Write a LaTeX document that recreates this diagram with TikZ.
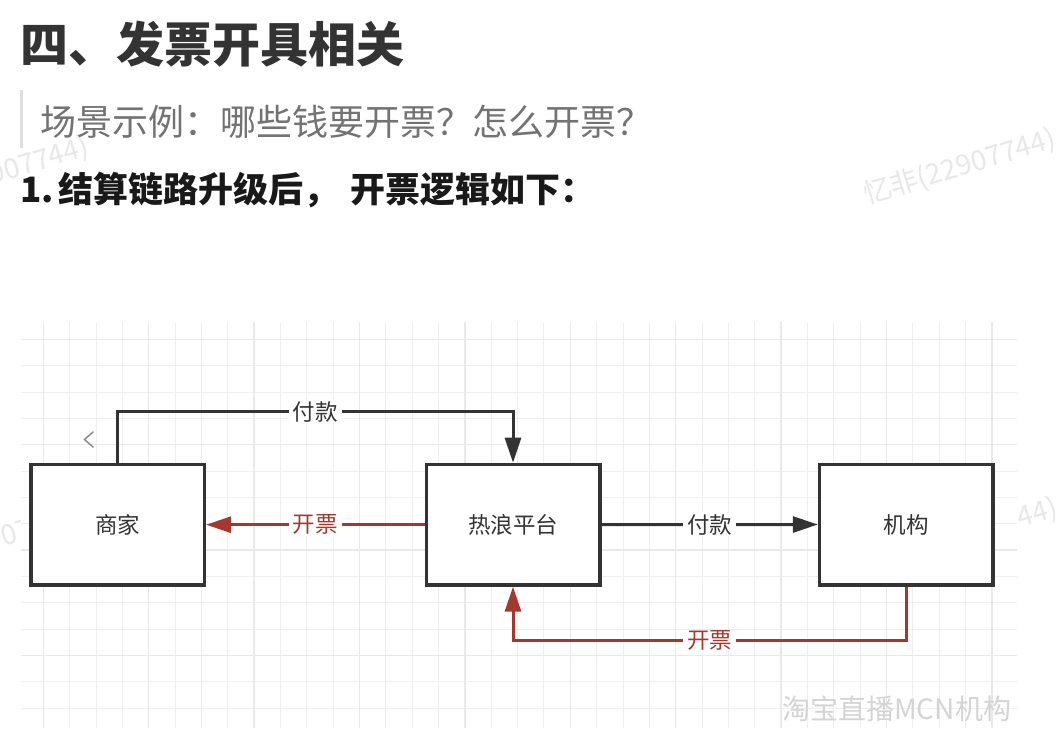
\documentclass[tikz,border=0pt]{standalone}
\usepackage{fontspec}
\setmainfont{Noto Sans CJK SC}
\usetikzlibrary{arrows.meta}
\definecolor{ink}{HTML}{333333}
\definecolor{invred}{HTML}{A3382E}
\definecolor{gridminor}{HTML}{EFEFEF}
\definecolor{gridmajor}{HTML}{E9E9E9}
\definecolor{wmgray}{HTML}{E8E8E8}
\newcommand\fsz[1]{\fontsize{#1}{#1}\selectfont}
\tikzset{
  entity/.style={draw=ink, line width=3.4pt, fill=white, minimum width=173.6pt,
    minimum height=120.6pt, inner sep=0pt, font=\fsz{22.5pt}, text=ink},
  payline/.style={draw=ink, line width=3pt, -{Triangle[length=25pt,width=16pt]}},
  invline/.style={draw=invred, line width=3pt, -{Triangle[length=25pt,width=16pt]}},
  lbl/.style={fill=white, inner xsep=4pt, inner ysep=1pt, font=\fsz{22.5pt}},
  wm/.style={text=wmgray, font=\fsz{28pt}, rotate=17, inner sep=0pt, anchor=base west},
}
\begin{document}
\begin{tikzpicture}[x=1pt,y=-1pt]
\useasboundingbox (0,0) rectangle (1056,742);
\fill[white] (0,0) rectangle (1056,742);

% background watermarks
\node[wm] (wmA) at (867,205) {忆非(22907744)};
\node[wm] (wmB) at (-100,213) {忆非(22907744)};
\node[wm] (wmC) at (-103,579) {忆非(22907744)};
\node[wm] (wmD) at (869,574) {忆非(22907744)};

% header
\node[anchor=west, inner sep=0pt, text=ink, font=\fsz{48pt}\bfseries] (title) at (20,44) {四、发票开具相关};
\fill[gray!25] (19.5,90) rectangle (22.5,148);
\node[anchor=west, inner sep=0pt, text=black!55, font=\fsz{36pt}] (sub) at (40,122) {场景示例：哪些钱要开票？怎么开票？};
\node[anchor=west, inner sep=0pt, text=black!90, font=\fsz{35pt}\bfseries] (head) at (20,190) {1.\hspace{5pt}结算链路升级后，\hspace{12pt}开票逻辑如下：};

% diagram canvas
\fill[white] (21,300) rectangle (1017,742);
\begin{scope}
  \clip (21,322) rectangle (1017,728);
  \foreach \i in {0,...,37} {
    \pgfmathsetmacro\xx{43.3+26.35*\i}
    \draw[gridminor, line width=1pt] (\xx,322) -- (\xx,728);
  }
  \foreach \j in {0,...,14} {
    \pgfmathsetmacro\yy{339.3+26.35*\j}
    \draw[gridminor, line width=1pt] (21,\yy) -- (1017,\yy);
  }
  \foreach \i in {0,4,...,36} {
    \pgfmathsetmacro\xx{43.3+26.35*\i}
    \draw[gridmajor, line width=1.3pt] (\xx,322) -- (\xx,728);
  }
  \foreach \j in {0,4,...,12} {
    \pgfmathsetmacro\yy{339.3+26.35*\j}
    \draw[gridmajor, line width=1.3pt] (21,\yy) -- (1017,\yy);
  }
\end{scope}

% small chevron
\draw[black!45, line width=1.5pt, line cap=round, line join=miter] (93,432) -- (84.5,439.5) -- (93,447);

% entities
\node[entity] (shang) at (117.6,524.7) {商家};
\node[entity] (re) at (513,524.7) {热浪平台};
\node[entity] (ji) at (906.3,524.5) {机构};

% connectors
\draw[payline] (shang.north) -- (shang.north |- 0,411.7)
  -- node[lbl, text=ink] (payA) {付款} (re.north |- 0,411.7) -- (re.north);
\draw[invline] (re.west) -- node[lbl, text=invred] (invA) {开票} (shang.east);
\draw[payline] (re.east) -- node[lbl, text=ink] (payB) {付款} (ji.west);
\draw[invline] (ji.south) -- (ji.south |- 0,640.5)
  -- node[lbl, text=invred] (invB) {开票} (re.south |- 0,640.5) -- (re.south);

% foreground watermark
\node[anchor=west, inner sep=0pt, text=black!17, font=\fsz{28pt}] (wmE) at (782,709) {淘宝直播MCN机构};
\end{tikzpicture}
\end{document}
